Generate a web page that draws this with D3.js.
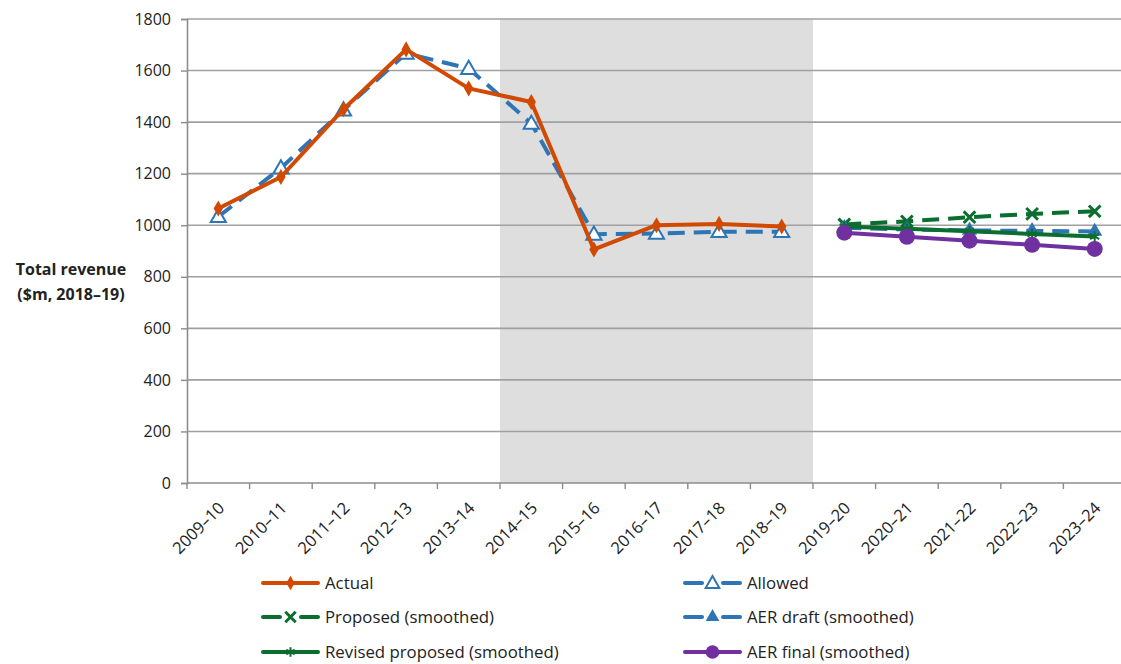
<!DOCTYPE html>
<html>
<head>
<meta charset="utf-8">
<script src="https://cdn.jsdelivr.net/npm/d3@7"></script>
<style>
  html, body { margin: 0; padding: 0; background: #fff; }
  svg { display: block; }
</style>
</head>
<body>
<svg id="chart" width="1121" height="664"></svg>
<script>
// Financial years on the category axis
const years = ["2009–10","2010–11","2011–12","2012–13","2013–14","2014–15","2015–16",
               "2016–17","2017–18","2018–19","2019–20","2020–21","2021–22","2022–23","2023–24"];
const histYears = years.slice(0, 10);
const forecastYears = years.slice(10);
// Current period (shaded band)
const shadeStart = "2014–15";
const shadeEnd = "2018–19";

// Total revenue, $m 2018–19
const actual  = [1065, 1187, 1450, 1682, 1531, 1478, 906, 1000, 1005, 995];
const allowed = [1033, 1222, 1447, 1667, 1608, 1395, 965, 968, 975, 975];
const proposed        = [1003, 1015, 1031, 1044, 1054];
const revisedProposed = [995, 986, 977, 966, 956];
const aerDraft        = [990, 983, 980, 978, 976];
const aerFinal        = [971, 955, 940, 924, 908];

const yTicks = [0, 200, 400, 600, 800, 1000, 1200, 1400, 1600, 1800];

const seriesDefs = [
  { name: "Actual", cats: histYears, values: actual, color: "#D24A02", dash: null, marker: "diamond" },
  { name: "Allowed", cats: histYears, values: allowed, color: "#2E75B6", dash: "17,9", marker: "triOpen" },
  { name: "Proposed (smoothed)", cats: forecastYears, values: proposed, color: "#0B6E2E", dash: "17,9", marker: "x" },
  { name: "AER draft (smoothed)", cats: forecastYears, values: aerDraft, color: "#2E75B6", dash: "17,9", marker: "triFill" },
  { name: "Revised proposed (smoothed)", cats: forecastYears, values: revisedProposed, color: "#0B6E2E", dash: null, marker: "star" },
  { name: "AER final (smoothed)", cats: forecastYears, values: aerFinal, color: "#7030A0", dash: null, marker: "circle" }
];
// Drawing order (back to front)
const drawOrder = ["Allowed", "Actual", "Proposed (smoothed)", "AER draft (smoothed)", "Revised proposed (smoothed)", "AER final (smoothed)"];
// Legend layout: left column then right column
const legendLeft = ["Actual", "Proposed (smoothed)", "Revised proposed (smoothed)"];
const legendRight = ["Allowed", "AER draft (smoothed)", "AER final (smoothed)"];

const font = "'Open Sans', 'Noto Sans', sans-serif";
const svg = d3.select("#chart");
const margin = { left: 187, top: 19, right: 1126, bottom: 483 };

const x = d3.scaleBand().domain(years).range([margin.left, margin.right]).paddingInner(0).paddingOuter(0);
const y = d3.scaleLinear().domain([0, 1800]).range([margin.bottom, margin.top]);
const cx = d => x(d) + x.bandwidth() / 2;

// Shaded current-period band
svg.append("rect")
  .attr("x", x(shadeStart))
  .attr("y", y(1800))
  .attr("width", x(shadeEnd) + x.bandwidth() - x(shadeStart))
  .attr("height", y(0) - y(1800))
  .attr("fill", "#DEDEDE");

// Horizontal gridlines
svg.append("g").selectAll("line").data(yTicks.filter(t => t > 0)).join("line")
  .attr("x1", margin.left).attr("x2", margin.right)
  .attr("y1", d => y(d)).attr("y2", d => y(d))
  .attr("stroke", "#A0A0A0").attr("stroke-width", 1.6);

// Y axis
const yAxis = svg.append("g").attr("transform", `translate(${margin.left},0)`)
  .call(d3.axisLeft(y).tickValues(yTicks).tickSize(6).tickPadding(10).tickFormat(d3.format("d")));
yAxis.select(".domain").attr("stroke", "#8C8C8C").attr("stroke-width", 1.6);
yAxis.selectAll(".tick line").attr("stroke", "#8C8C8C").attr("stroke-width", 1.4);
yAxis.selectAll(".tick text").attr("font-family", font).attr("font-size", 16).attr("fill", "#222");

// X axis: ticks on category boundaries
const xAxisG = svg.append("g");
xAxisG.append("line")
  .attr("x1", margin.left).attr("x2", margin.right)
  .attr("y1", y(0)).attr("y2", y(0))
  .attr("stroke", "#8C8C8C").attr("stroke-width", 1.6);
xAxisG.selectAll("line.tk").data(years).join("line").attr("class", "tk")
  .attr("x1", d => x(d)).attr("x2", d => x(d))
  .attr("y1", y(0)).attr("y2", y(0) + 6)
  .attr("stroke", "#8C8C8C").attr("stroke-width", 1.4);
xAxisG.selectAll("text").data(years).join("text")
  .attr("transform", d => `translate(${cx(d) + 3},${y(0) + 22}) rotate(-45)`)
  .attr("text-anchor", "end")
  .attr("dy", "0.35em")
  .attr("font-family", font).attr("font-size", 16.5).attr("fill", "#222")
  .text(d => d);

// Y axis title
const yTitle = svg.append("text")
  .attr("font-family", font).attr("font-size", 16).attr("font-weight", "bold").attr("fill", "#222")
  .attr("text-anchor", "middle");
yTitle.append("tspan").attr("x", 71).attr("y", 275).text("Total revenue");
yTitle.append("tspan").attr("x", 71).attr("y", 300).text("($m, 2018–19)");

// Marker drawing
function drawMarker(g, type, color, px, py, scale = 1) {
  const s = scale;
  switch (type) {
    case "diamond":
      g.append("path")
        .attr("d", d3.symbol(d3.symbolDiamond, 75 * s * s)())
        .attr("transform", `translate(${px},${py})`)
        .attr("fill", color);
      break;
    case "triOpen":
      g.append("path")
        .attr("d", d3.symbol(d3.symbolTriangle, 100 * s * s)())
        .attr("transform", `translate(${px},${py + 1})`)
        .attr("fill", "#fff").attr("stroke", color).attr("stroke-width", 2);
      break;
    case "triFill":
      g.append("path")
        .attr("d", d3.symbol(d3.symbolTriangle, 100 * s * s)())
        .attr("transform", `translate(${px},${py})`)
        .attr("fill", color);
      break;
    case "x":
      g.append("path")
        .attr("d", d3.symbol(d3.symbolX, 90 * s * s)())
        .attr("transform", `translate(${px},${py})`)
        .attr("fill", "none").attr("stroke", color).attr("stroke-width", 3);
      break;
    case "star":
      g.append("path")
        .attr("d", d3.symbol(d3.symbolAsterisk, 80 * s * s)())
        .attr("transform", `translate(${px},${py})`)
        .attr("fill", "none").attr("stroke", color).attr("stroke-width", 2);
      break;
    case "circle":
      g.append("circle")
        .attr("cx", px).attr("cy", py).attr("r", 8 * s)
        .attr("fill", color);
      break;
  }
}

// Series lines and markers
const line = d3.line().x(d => cx(d.cat)).y(d => y(d.v));
const plotG = svg.append("g");
drawOrder.forEach(name => {
  const s = seriesDefs.find(d => d.name === name);
  const pts = s.cats.map((c, i) => ({ cat: c, v: s.values[i] }));
  const g = plotG.append("g");
  g.append("path")
    .datum(pts)
    .attr("d", line)
    .attr("fill", "none")
    .attr("stroke", s.color)
    .attr("stroke-width", 4)
    .attr("stroke-linejoin", "round")
    .attr("stroke-dasharray", s.dash);
  pts.forEach(p => drawMarker(g, s.marker, s.color, cx(p.cat), y(p.v)));
});

// Legend
const legendRows = [583, 617, 652];
function legendItem(name, x0, rowY) {
  const s = seriesDefs.find(d => d.name === name);
  const g = svg.append("g");
  if (s.dash) {
    g.append("line").attr("x1", x0).attr("x2", x0 + 17).attr("y1", rowY).attr("y2", rowY)
      .attr("stroke", s.color).attr("stroke-width", 4).attr("stroke-linecap", "round");
    g.append("line").attr("x1", x0 + 38).attr("x2", x0 + 55).attr("y1", rowY).attr("y2", rowY)
      .attr("stroke", s.color).attr("stroke-width", 4).attr("stroke-linecap", "round");
  } else {
    g.append("line").attr("x1", x0).attr("x2", x0 + 55).attr("y1", rowY).attr("y2", rowY)
      .attr("stroke", s.color).attr("stroke-width", 4).attr("stroke-linecap", "round");
  }
  drawMarker(g, s.marker, s.color, x0 + 27.5, rowY, s.marker === "circle" ? 0.85 : 0.9);
  g.append("text").attr("x", x0 + 62).attr("y", rowY).attr("dy", "0.35em")
    .attr("font-family", font).attr("font-size", 16.8).attr("fill", "#222").text(name);
}
legendLeft.forEach((n, i) => legendItem(n, 263, legendRows[i]));
legendRight.forEach((n, i) => legendItem(n, 685, legendRows[i]));
</script>
</body>
</html>
